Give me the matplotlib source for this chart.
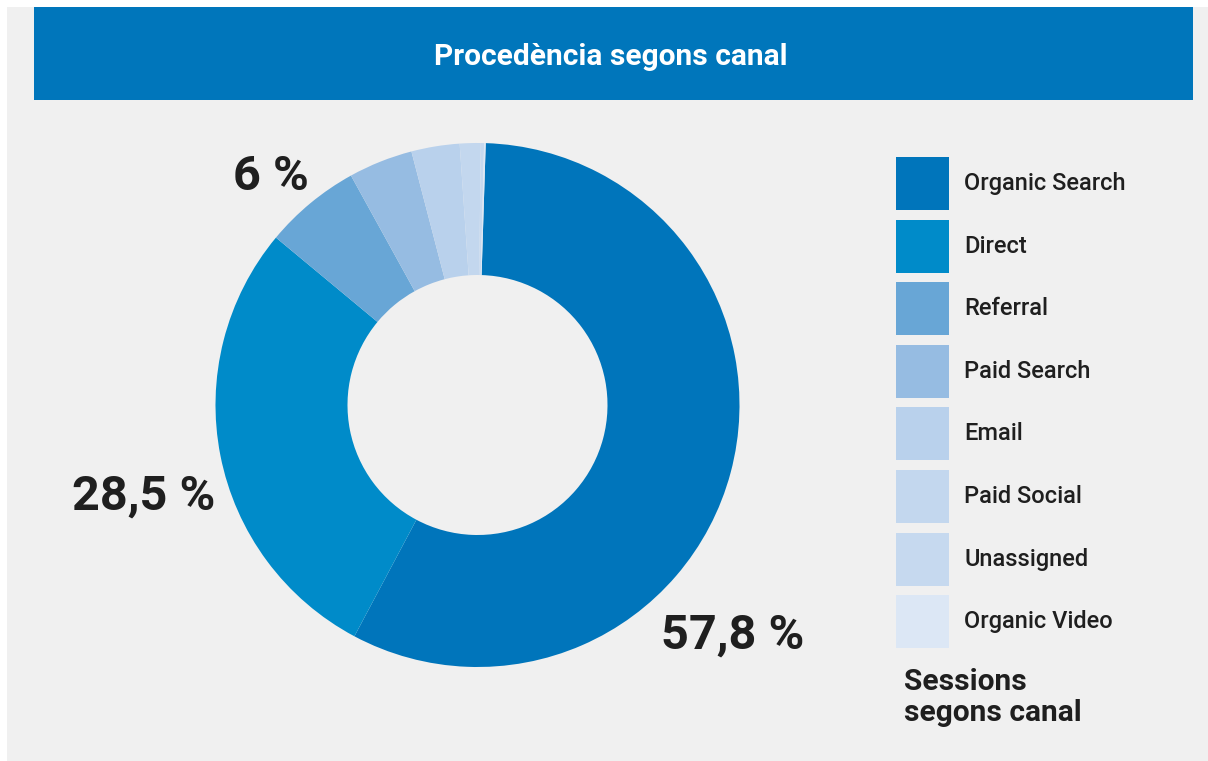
import matplotlib
matplotlib.use("Agg")
import matplotlib.pyplot as plt
from matplotlib.patches import Rectangle

plt.rcParams["font.family"] = ["Roboto", "DejaVu Sans"]

# data
channels = ["Organic Search", "Direct", "Referral", "Paid Search", "Email",
            "Paid Social", "Unassigned", "Organic Video"]
sessions = [57.8, 28.5, 6.0, 4.0, 3.0, 1.3, 0.2, 0.1]
colors = ["#0075bb", "#008bc9", "#68a6d6", "#96bce2", "#b9d1ec",
          "#c3d7ee", "#c6d9ef", "#dce7f5"]
shown_labels = ["57,8 %", "28,5 %", "6 %"]
label_xy = [(0.975, -0.88), (-1.275, -0.35), (-0.79, 0.87)]   # pie units
title = "Procedència segons canal"
legend_title = "Sessions\nsegons canal"

W, H = 1208, 761
BG = "#f0f0f0"
DARK = "#1f1f1f"

fig = plt.figure(figsize=(W / 100, H / 100), dpi=100)
fig.patch.set_facecolor("white")

# pixel-space overlay for panel, banner, legend
bg = fig.add_axes([0, 0, 1, 1])
bg.set_xlim(0, W); bg.set_ylim(H, 0); bg.axis("off")
bg.add_patch(Rectangle((7, 7), W - 7, H - 7, color=BG, lw=0))
bg.add_patch(Rectangle((34, 7), 1193 - 34, 93, color="#0076bb", lw=0))
bg.text(611, 57, title, color="white", fontsize=21.5, fontweight="bold",
        ha="center", va="center")

sw, pitch, y0 = 53, 62.6, 157
for i, (name, c) in enumerate(zip(channels, colors)):
    y = y0 + i * pitch
    bg.add_patch(Rectangle((896, y), sw, sw, color=c, lw=0))
    bg.text(964, y + sw / 2, name, color=DARK, fontsize=17, fontweight="medium",
            va="center", ha="left")
bg.text(904, 668, legend_title, color=DARK, fontsize=21.5, fontweight="bold",
        va="top", ha="left", linespacing=1.13)

# donut
cx, cy, R = 477.5, 405, 262
ax = fig.add_axes([(cx - R) / W, (H - cy - R) / H, 2 * R / W, 2 * R / H])
ax.pie(sessions, colors=colors, startangle=88.2, counterclock=False, radius=1,
       wedgeprops=dict(width=1 - 130 / 262, linewidth=0))
ax.set_xlim(-1, 1); ax.set_ylim(-1, 1)
ax.set_aspect("equal"); ax.axis("off")
for txt, (x, y) in zip(shown_labels, label_xy):
    ax.text(x, y, txt, fontsize=35, fontweight="bold", color=DARK,
            ha="center", va="center", clip_on=False)

fig.savefig("out.png", dpi=100, facecolor=fig.get_facecolor())
